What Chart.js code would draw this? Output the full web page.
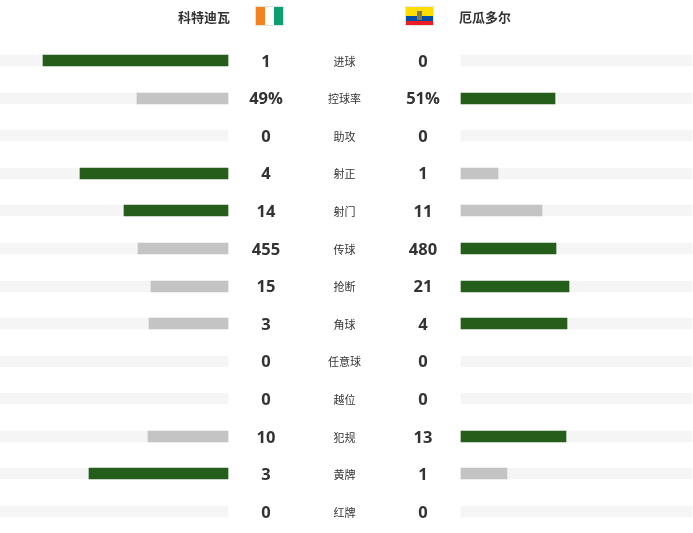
<!DOCTYPE html>
<html><head><meta charset="utf-8">
<style>html,body{margin:0;padding:0;background:#fff}canvas{display:block}</style>
<script src="https://cdn.jsdelivr.net/npm/chart.js@4"></script>
</head><body><canvas id="c" width="693" height="533"></canvas>
<script>
const categories=['进球','控球率','助攻','射正','射门','传球','抢断','角球','任意球','越位','犯规','黄牌','红牌'];
const homeName='科特迪瓦';
const awayName='厄瓜多尔';
const homeValues=[1,49,0,4,14,455,15,3,0,0,10,3,0];
const awayValues=[0,51,0,1,11,480,21,4,0,0,13,1,0];
const suffixes=['','%','','','','','','','','','','',''];

const GREEN='#245E1A',GREY='#C4C4C4',TRACK='#F5F5F5',INK='#333333';
const W=693,FULL=185,L_IN=228,R_IN=461,R_OUT=692,L_TXT=266,R_TXT=423,MID=344.5;
const share=(a,b)=>a+b===0?0:a/(a+b);
const homeBars=homeValues.map((v,i)=>v?[Math.round(L_IN-share(v,awayValues[i])*FULL),L_IN]:null);
const awayBars=awayValues.map((v,i)=>v?[R_IN,Math.round(R_IN+share(v,homeValues[i])*FULL)]:null);
const colours=(a,b)=>a.map((v,i)=>v>b[i]?GREEN:GREY);
const FS='"Noto Sans CJK SC","Open Sans",sans-serif';

const snapPlugin={id:'snap',afterDatasetsUpdate(ch){
  ch.data.datasets.forEach((d,i)=>ch.getDatasetMeta(i).data.forEach(el=>{
    el.y=Math.round(el.y-5.5)+5.5;
  }));
}};
const textPlugin={id:'txt',afterDraw(ch){
  const c=ch.ctx,y=ch.scales.y;
  c.save();c.fillStyle=INK;c.textBaseline='middle';
  categories.forEach((n,i)=>{
    const p=y.getPixelForValue(i);
    c.textAlign='center';
    c.font='bold 16.5px "Open Sans",sans-serif';
    c.fillText(homeValues[i]+suffixes[i],L_TXT,p+1.5);
    c.fillText(awayValues[i]+suffixes[i],R_TXT,p+1.5);
    c.font='11px '+FS;
    c.fillText(n,MID,p+1);
  });
  c.font='bold 13px '+FS;
  c.textAlign='right';c.fillText(homeName,230,17);
  c.textAlign='left';c.fillText(awayName,459,17);
  // flags
  c.fillStyle='#F58220';c.fillRect(255,6,10,20);
  c.fillStyle='#FFFFFF';c.fillRect(265,6,9,20);
  c.fillStyle='#0E9F6E';c.fillRect(274,6,10,20);
  c.strokeStyle='#E2E2E2';c.lineWidth=1;c.strokeRect(255.5,6.5,28,19);
  c.fillStyle='#FFDD00';c.fillRect(405,6,29,10);
  c.fillStyle='#034EA2';c.fillRect(405,16,29,5);
  c.fillStyle='#ED1C24';c.fillRect(405,21,29,5);
  c.fillStyle='#7A7A50';c.fillRect(417,11,5,9);
  c.strokeStyle='#E6E6E6';c.strokeRect(405.5,6.5,28,19);
  c.restore();
}};

new Chart(document.getElementById('c'),{
  type:'bar',
  data:{labels:categories,datasets:[
    {data:homeBars,backgroundColor:colours(homeValues,awayValues),order:1,grouped:false},
    {data:awayBars,backgroundColor:colours(awayValues,homeValues),order:1,grouped:false},
    {data:categories.map(()=>[0,L_IN]),backgroundColor:TRACK,order:2,grouped:false},
    {data:categories.map(()=>[R_IN,R_OUT]),backgroundColor:TRACK,order:2,grouped:false}
  ]},
  options:{
    indexAxis:'y',responsive:false,animation:false,
    layout:{padding:{top:41.7,bottom:2.7,left:0,right:0}},
    datasets:{bar:{barThickness:11,borderWidth:0,borderSkipped:false}},
    plugins:{legend:{display:false},tooltip:{enabled:false},title:{display:false}},
    scales:{
      x:{type:'linear',min:0,max:W,display:false},
      y:{type:'category',display:false,grid:{display:false}}
    }
  },
  plugins:[snapPlugin,textPlugin]
});
</script></body></html>
